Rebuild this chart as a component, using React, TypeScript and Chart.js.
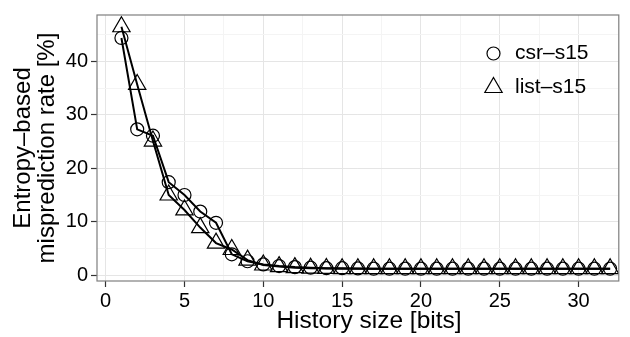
import React, { useEffect, useRef } from "react";
import { Chart, registerables } from "chart.js";

Chart.register(...registerables);

// History sizes in bits
const historyBits = [
  1, 2, 3, 4, 5, 6, 7, 8, 9, 10, 11, 12, 13, 14, 15, 16,
  17, 18, 19, 20, 21, 22, 23, 24, 25, 26, 27, 28, 29, 30, 31, 32,
];

// Entropy-based misprediction rate [%]
const csrS15 = [
  44.4, 27.3, 26.1, 17.4, 15.0, 11.9, 9.8, 3.9, 2.6, 2.0, 1.7, 1.5, 1.4, 1.3, 1.3, 1.25,
  1.2, 1.2, 1.2, 1.2, 1.2, 1.2, 1.2, 1.2, 1.2, 1.2, 1.2, 1.2, 1.2, 1.2, 1.2, 1.2,
];
const listS15 = [
  46.5, 35.7, 25.1, 15.0, 12.2, 8.9, 6.0, 4.8, 2.8, 1.9, 1.6, 1.4, 1.3, 1.25, 1.2, 1.2,
  1.2, 1.2, 1.2, 1.2, 1.2, 1.2, 1.2, 1.2, 1.2, 1.2, 1.2, 1.2, 1.2, 1.2, 1.2, 1.2,
];

const seriesNames = ["csr\u2013s15", "list\u2013s15"];

const xMajorTicks = [0, 5, 10, 15, 20, 25, 30];
const xMinorTicks = [2.5, 7.5, 12.5, 17.5, 22.5, 27.5, 32.5];
const yMajorTicks = [0, 10, 20, 30, 40];
const yMinorTicks = [5, 15, 25, 35, 45];

const xTitle = "History size [bits]";
const yTitle = ["Entropy\u2013based", "misprediction rate [%]"];

const FONT = "'Liberation Sans', Arial, Helvetica, sans-serif";
const CIRCLE_R = 6.5;
const TRIANGLE_R = 10;

const isMajor = (v: number, list: number[]) => list.includes(v);

const panelPlugin = {
  id: "panelDecor",
  afterDatasetsDraw(chart: any) {
    const { ctx, chartArea } = chart;
    const { left, top, right, bottom } = chartArea;
    ctx.save();
    // panel border
    ctx.strokeStyle = "#7f7f7f";
    ctx.lineWidth = 1.2;
    ctx.strokeRect(left, top, right - left, bottom - top);

    // legend inside panel
    ctx.strokeStyle = "#000";
    ctx.lineWidth = 1.2;
    ctx.fillStyle = "#000";
    ctx.font = `21px ${FONT}`;
    ctx.textBaseline = "middle";
    ctx.textAlign = "left";
    const lx = 493.5;
    const rows = [53.5, 87.5];
    ctx.beginPath();
    ctx.arc(lx, rows[0], CIRCLE_R, 0, Math.PI * 2);
    ctx.stroke();
    ctx.fillText(seriesNames[0], 515, rows[0]);
    ctx.beginPath();
    for (let i = 0; i < 3; i++) {
      const a = -Math.PI / 2 + (i * 2 * Math.PI) / 3;
      const px = lx + Math.cos(a) * TRIANGLE_R;
      const py = rows[1] + Math.sin(a) * TRIANGLE_R;
      if (i === 0) ctx.moveTo(px, py);
      else ctx.lineTo(px, py);
    }
    ctx.closePath();
    ctx.stroke();
    ctx.fillText(seriesNames[1], 515, rows[1]);
    ctx.restore();
  },
  afterDraw(chart: any) {
    const { ctx, chartArea } = chart;
    const { top, bottom } = chartArea;
    ctx.save();
    ctx.fillStyle = "#000";
    ctx.font = `24.5px ${FONT}`;
    ctx.textAlign = "center";
    ctx.textBaseline = "middle";
    // x axis title
    ctx.fillText(xTitle, 369, 321);
    // y axis title (two lines, rotated)
    const cy = (top + bottom) / 2;
    ctx.translate(0, cy);
    ctx.rotate(-Math.PI / 2);
    ctx.font = `24px ${FONT}`;
    ctx.fillText(yTitle[0], 0, 23);
    ctx.fillText(yTitle[1], 0, 47);
    ctx.restore();
  },
};

export default function App() {
  const canvasRef = useRef<HTMLCanvasElement | null>(null);

  useEffect(() => {
    document.body.style.margin = "0";
    const canvas = canvasRef.current;
    if (!canvas) return;

    const chart = new Chart(canvas, {
      type: "line",
      data: {
        datasets: [
          {
            label: seriesNames[0],
            data: historyBits.map((x, i) => ({ x, y: csrS15[i] })),
            borderColor: "#000",
            borderWidth: 2,
            pointStyle: "circle",
            pointRadius: CIRCLE_R,
            pointBorderWidth: 1.2,
            pointBorderColor: "#000",
            pointBackgroundColor: "rgba(0,0,0,0)",
            tension: 0,
          },
          {
            label: seriesNames[1],
            data: historyBits.map((x, i) => ({ x, y: listS15[i] })),
            borderColor: "#000",
            borderWidth: 2,
            pointStyle: "triangle",
            pointRadius: TRIANGLE_R,
            pointBorderWidth: 1.2,
            pointBorderColor: "#000",
            pointBackgroundColor: "rgba(0,0,0,0)",
            tension: 0,
          },
        ],
      },
      options: {
        responsive: false,
        animation: false,
        layout: { padding: { top: 9, right: 6, left: 0, bottom: 0 } },
        plugins: {
          legend: { display: false },
          tooltip: { enabled: false },
        },
        scales: {
          x: {
            type: "linear",
            min: -0.55,
            max: 32.55,
            afterBuildTicks: (scale: any) => {
              scale.ticks = [...xMajorTicks, ...xMinorTicks]
                .sort((a, b) => a - b)
                .map((v) => ({ value: v }));
            },
            afterFit: (scale: any) => {
              scale.height = 56;
            },
            border: { display: false },
            grid: {
              color: (c: any) =>
                isMajor(c.tick?.value, xMajorTicks) ? "#e5e5e5" : "#f4f4f4",
              lineWidth: 1,
              tickColor: (c: any) =>
                isMajor(c.tick?.value, xMajorTicks) ? "#333" : "rgba(0,0,0,0)",
              tickLength: 6,
              tickWidth: 1.2,
            },
            ticks: {
              autoSkip: false,
              maxRotation: 0,
              padding: 2,
              color: "#000",
              font: { family: FONT, size: 20 },
              callback: (v: any) =>
                isMajor(Number(v), xMajorTicks) ? String(v) : "",
            },
          },
          y: {
            type: "linear",
            min: -1.1,
            max: 48.7,
            afterBuildTicks: (scale: any) => {
              scale.ticks = [...yMajorTicks, ...yMinorTicks]
                .sort((a, b) => a - b)
                .map((v) => ({ value: v }));
            },
            afterFit: (scale: any) => {
              scale.width = 97;
            },
            border: { display: false },
            grid: {
              color: (c: any) =>
                isMajor(c.tick?.value, yMajorTicks) ? "#e5e5e5" : "#f4f4f4",
              lineWidth: 1,
              tickColor: (c: any) =>
                isMajor(c.tick?.value, yMajorTicks) ? "#333" : "rgba(0,0,0,0)",
              tickLength: 6,
              tickWidth: 1.2,
            },
            ticks: {
              autoSkip: false,
              padding: 3,
              color: "#000",
              font: { family: FONT, size: 20 },
              callback: (v: any) =>
                isMajor(Number(v), yMajorTicks) ? String(v) : "",
            },
          },
        },
      },
      plugins: [panelPlugin],
    });

    return () => chart.destroy();
  }, []);

  return (
    <canvas
      ref={canvasRef}
      width={630}
      height={337}
      style={{ display: "block", width: 630, height: 337 }}
    />
  );
}
